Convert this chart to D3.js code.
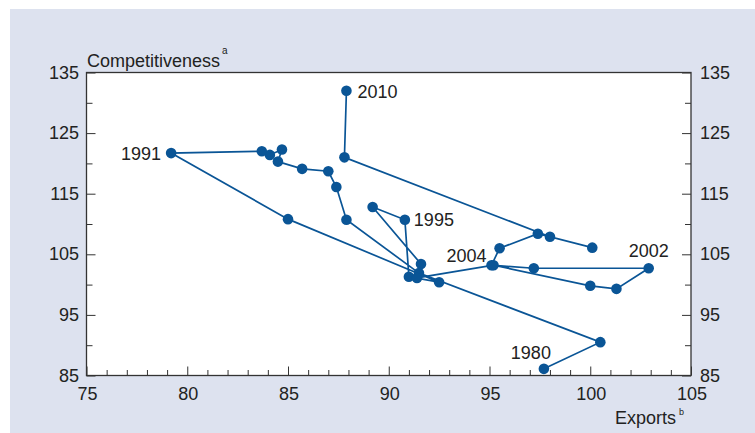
<!DOCTYPE html>
<html><head><meta charset="utf-8">
<script src="https://cdn.jsdelivr.net/npm/d3@7"></script>
<style>
html,body{margin:0;padding:0;background:#fff;}
svg{display:block;font-family:"Liberation Sans",Arial,sans-serif;}
</style></head>
<body>
<svg id="chart" width="755" height="433"></svg>
<script>
const years = [1980,1981,1982,1983,1984,1985,1986,1987,1988,1989,1990,1991,1992,1993,1994,1995,1996,1997,1998,1999,2000,2001,2002,2003,2004,2005,2006,2007,2008,2009,2010];
const exportsVals = [97.7,100.5,91.5,87.9,87.4,87.0,85.7,84.5,84.7,84.1,83.7,79.2,85.0,92.5,91.0,90.8,89.2,91.6,91.4,95.2,100.0,101.3,102.9,97.2,95.1,95.5,97.4,100.1,98.0,87.8,87.9];
const competitiveness = [86.1,90.5,101.9,110.7,116.1,118.7,119.1,120.3,122.3,121.4,122.0,121.7,110.8,100.4,101.3,110.7,112.8,103.4,101.1,103.2,99.8,99.3,102.7,102.7,103.2,106.0,108.4,106.1,107.9,121.0,132.0];
const labelledYears = [1980,1991,1995,2002,2004,2010];
const xTickLabels = [75,80,85,90,95,100,105];
const yTickLabels = [85,95,105,115,125,135];

const svg = d3.select("#chart");
const W = 755, H = 433;
const m = {left:86.5, right:691, top:72.5, bottom:375.5};

svg.append("rect").attr("x",10).attr("y",9).attr("width",W-10).attr("height",H-9).attr("fill","#dde2ef");
svg.append("rect").attr("x",m.left).attr("y",m.top).attr("width",m.right-m.left).attr("height",m.bottom-m.top)
  .attr("fill","#fff");

const x = d3.scaleLinear().domain([75,105]).range([m.left,m.right]);
const y = d3.scaleLinear().domain([85,135]).range([m.bottom,m.top]);

// ticks
const xMinor = d3.range(75,106,1);
const gx = svg.append("g").attr("transform",`translate(0,${m.bottom})`)
  .call(d3.axisBottom(x).tickValues(xMinor).tickSizeOuter(0).tickFormat(""));
gx.select(".domain").remove();
gx.selectAll(".tick line").attr("y2", d => d%5===0 ? -9 : -5.5).attr("stroke","#333");

const yAll = d3.range(85,136,5);
const gyl = svg.append("g").attr("transform",`translate(${m.left},0)`).call(d3.axisLeft(y).tickValues(yAll).tickFormat(""));
gyl.select(".domain").remove();
gyl.selectAll(".tick line").attr("x2", d => (d-85)%10===0 ? 9 : 6).attr("stroke","#333");
const gyr = svg.append("g").attr("transform",`translate(${m.right},0)`).call(d3.axisRight(y).tickValues(yAll).tickFormat(""));
gyr.select(".domain").remove();
gyr.selectAll(".tick line").attr("x2", d => (d-85)%10===0 ? -9 : -6).attr("stroke","#333");

// border
svg.append("rect").attr("x",m.left).attr("y",m.top).attr("width",m.right-m.left).attr("height",m.bottom-m.top)
  .attr("fill","none").attr("stroke","#333").attr("stroke-width",1.3);

// tick labels
const fs = 18;
svg.append("g").selectAll("text").data(xTickLabels).join("text")
  .attr("x",d=>x(d)+1).attr("y",400).attr("text-anchor","middle").attr("font-size",fs).attr("fill","#222").text(d=>d);
svg.append("g").selectAll("text").data(yTickLabels).join("text")
  .attr("x",79).attr("y",d=>y(d)+6).attr("text-anchor","end").attr("font-size",fs).attr("fill","#222").text(d=>d);
svg.append("g").selectAll("text").data(yTickLabels).join("text")
  .attr("x",700).attr("y",d=>y(d)+6).attr("text-anchor","start").attr("font-size",fs).attr("fill","#222").text(d=>d);

// axis titles
const t1 = svg.append("text").attr("x",87).attr("y",67).attr("font-size",fs).attr("fill","#222");
t1.append("tspan").text("Competitiveness");
t1.append("tspan").attr("dx",2).attr("dy",-13).attr("font-size",10).text("a");
const t2 = svg.append("text").attr("x",615).attr("y",424).attr("font-size",fs).attr("fill","#222");
t2.append("tspan").text("Exports");
t2.append("tspan").attr("dx",3).attr("dy",-9).attr("font-size",9).text("b");

// data
const data = years.map((yr,i)=>({year:yr, ex:exportsVals[i], c:competitiveness[i]}));
const col = "#0a5596";
svg.append("path").datum(data)
  .attr("d", d3.line().x(d=>x(d.ex)).y(d=>y(d.c)))
  .attr("fill","none").attr("stroke",col).attr("stroke-width",1.7);
svg.append("g").selectAll("circle").data(data).join("circle")
  .attr("cx",d=>x(d.ex)).attr("cy",d=>y(d.c)).attr("r",5.3).attr("fill",col);

const lblPos = {1980:{dx:7,dy:-10,a:"end"},1991:{dx:-10,dy:7,a:"end"},1995:{dx:9,dy:6,a:"start"},
  2002:{dx:0,dy:-11,a:"middle"},2004:{dx:-5,dy:-3,a:"end"},2010:{dx:11,dy:7,a:"start"}};
svg.append("g").selectAll("text").data(data.filter(d=>labelledYears.includes(d.year))).join("text")
  .attr("x",d=>x(d.ex)+lblPos[d.year].dx).attr("y",d=>y(d.c)+lblPos[d.year].dy)
  .attr("text-anchor",d=>lblPos[d.year].a).attr("font-size",fs).attr("fill","#222").text(d=>d.year);
</script>
</body></html>
